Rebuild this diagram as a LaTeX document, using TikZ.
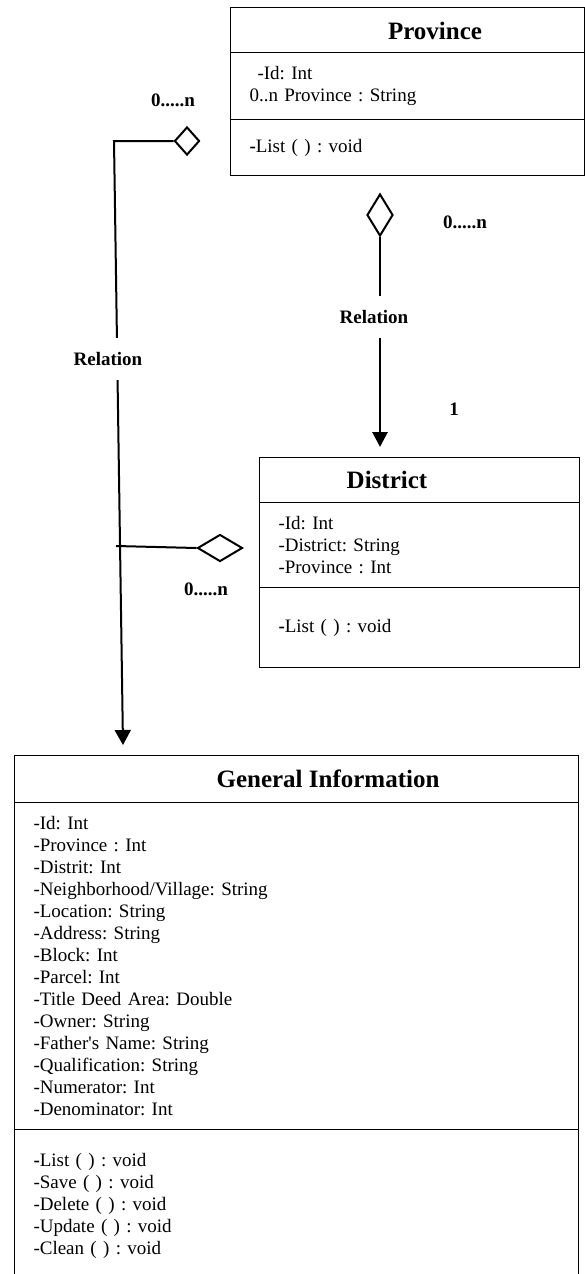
\documentclass[tikz,border=0pt]{standalone}
\usepackage{fontspec}
\setmainfont{Liberation Serif}
\usetikzlibrary{shapes.geometric,arrows.meta}

\newcommand{\attrfont}{\fontsize{19}{22}\selectfont}
\newcommand{\titlefont}{\fontsize{25}{30}\selectfont\bfseries}
\newcommand{\tagfont}{\fontsize{19}{22}\selectfont\bfseries}
\frenchspacing

\begin{document}
\begin{tikzpicture}[x=1pt,y=-1pt,
  part/.style={draw, line width=1pt, rectangle, anchor=north west, inner xsep=19pt, inner ysep=0pt, align=left, font=\attrfont},
  title/.style={font=\titlefont, inner sep=0pt},
  mult/.style={font=\tagfont, inner sep=0pt},
  rellabel/.style={font=\tagfont, fill=white, inner xsep=2pt, inner ysep=14pt},
  agg/.style={diamond, draw, line width=2pt, inner sep=0pt, fill=white},
  link/.style={line width=2pt}]
\useasboundingbox (0,0) rectangle (585,1274);

% Province
\node[part, minimum width=354pt, text width=316pt, minimum height=45pt] at (230,7) (provtop) {};
\node[part, minimum width=354pt, text width=316pt, minimum height=67pt] at (230,52) (provattr) {\hspace*{8pt}-Id: Int\\0..n Province : String};
\node[part, minimum width=354pt, text width=316pt, minimum height=56pt] at (230,119) (provops) {\textbf{-}List ( ) : void};
\node[title] at (435,31) (provname) {Province};

% District
\node[part, minimum width=320pt, text width=282pt, minimum height=45pt] at (259,457) (disttop) {};
\node[part, minimum width=320pt, text width=282pt, minimum height=85pt] at (259,502) (distattr) {-Id: Int\\-District: String\\-Province : Int};
\node[part, minimum width=320pt, text width=282pt, minimum height=80pt] at (259,587) (distops) {\textbf{-}List ( ) : void};
\node[title] at (387,480) (distname) {District};

% General Information
\node[part, minimum width=564pt, text width=526pt, minimum height=47pt] at (14,755) (gitop) {};
\node[part, minimum width=564pt, text width=526pt, minimum height=327pt] at (14,802) (giattr) {-Id: Int\\-Province : Int\\-Distrit: Int\\-Neighborhood/Village: String\\-Location: String\\-Address: String\\-Block: Int\\-Parcel: Int\\-Title Deed Area: Double\\-Owner: String\\-Father\textquotesingle s Name: String\\-Qualification: String\\-Numerator: Int\\-Denominator: Int};
\node[part, minimum width=564pt, text width=526pt, minimum height=152pt] at (14,1129) (giops) {\textbf{-}List ( ) : void\\-Save ( ) : void\\-Delete ( ) : void\\-Update ( ) : void\\-Clean ( ) : void};
\node[title] at (328,779) (giname) {General Information};

% aggregation diamonds
\node[agg, minimum width=25pt, minimum height=28pt] at (187,141) (aggprov) {};
\node[agg, minimum width=26pt, minimum height=42pt] at (380,215) (aggrel) {};
\node[agg, minimum width=45pt, minimum height=27pt] at (220,548) (aggdist) {};

% connectors
\coordinate (bend) at (114,141);
\coordinate (gitip) at (123,745);
\coordinate (joint) at (116,546);
\draw[link, -{Triangle[length=15pt,width=16pt]}] (aggprov.west) -- (bend) -- (gitip);
\draw[link] (joint) -- (aggdist.west);
\draw[link, line width=2.8pt, shorten >=10pt, -{Triangle[length=15pt,width=15pt]}] (aggrel.south) -- (aggrel.south |- disttop.north);

% labels
\node[rellabel] at (108,359) (relleft) {Relation};
\node[rellabel] at (374,317) (relright) {Relation};
\node[mult] at (173,100) (multprov) {0.....n};
\node[mult] at (465,222) (multrel) {0.....n};
\node[mult] at (454,409) (multone) {1};
\node[mult] at (206,589) (multdist) {0.....n};
\end{tikzpicture}
\end{document}
